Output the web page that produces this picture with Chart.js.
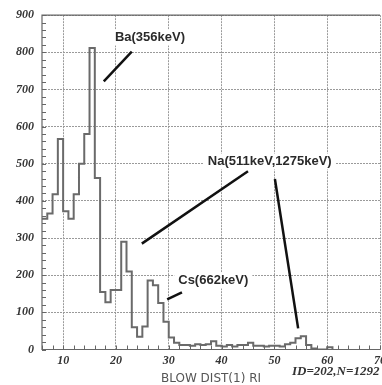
<!DOCTYPE html>
<html>
<head>
<meta charset="utf-8">
<script src="https://cdn.jsdelivr.net/npm/chart.js@4.4.0/dist/chart.umd.min.js"></script>
<style>
  html, body { margin: 0; padding: 0; background: #fff; overflow: hidden; }
  #wrap { width: 382px; height: 385px; overflow: hidden; }
</style>
</head>
<body>
<div id="wrap"><canvas id="hist" width="400" height="385"></canvas></div>
<script>
// bin edges (left edge of each bin, last entry closes the final bin)
const binEdges = [6, 7, 8, 9, 10, 11, 12, 13, 14, 15, 16, 17, 18, 19, 20, 21, 22, 23, 24, 25,
  26, 27, 28, 29, 30, 31, 32, 33, 34, 35, 36, 37, 38, 39, 40, 41, 42, 43, 44, 45,
  46, 47, 48, 49, 50, 51, 52, 53, 54, 55, 56, 57, 58, 59, 60, 61];
// counts per bin
const counts = [352, 366, 418, 567, 372, 352, 418, 500, 580, 812, 462, 155, 127, 160, 160, 290, 210, 60, 34, 62,
  186, 173, 125, 75, 32, 18, 12, 12, 10, 14, 12, 14, 22, 10, 8, 12, 8, 12, 12, 18,
  10, 10, 8, 10, 10, 8, 14, 18, 30, 36, 12, 3, 0, 0, 6];

const xTickLabels = [10, 20, 30, 40, 50, 60, 70];
const yTickLabels = [0, 100, 200, 300, 400, 500, 600, 700, 800, 900];

// peak labels: text, text anchor (x, y), pointer lines [[x1,y1,x2,y2], ...]
const peakNames = ['Ba(356keV)', 'Na(511keV,1275keV)', 'Cs(662keV)'];
const peakTextPos = [[19.8, 840], [37.4, 506], [31.8, 186]];
const peakLines = [
  [[17.7, 722, 23.0, 802]],
  [[45.0, 480, 24.9, 285], [50.1, 459, 54.5, 57]],
  [[29.7, 135, 32.5, 154]]
];

const histPoints = binEdges.map((x, i) => ({ x: x, y: i < counts.length ? counts[i] : 0 }));

const gridColor = '#9a9a9a';
const axisColor = '#666';
const tickFont = { family: '"Liberation Serif", serif', size: 12, style: 'italic', weight: 'bold' };

const decorations = {
  id: 'decorations',
  afterDatasetsDraw(chart) {
    const { ctx, chartArea: a, scales: { x, y } } = chart;
    ctx.save();
    // frame
    ctx.strokeStyle = axisColor;
    ctx.lineWidth = 1.2;
    ctx.beginPath();
    ctx.moveTo(a.right, a.top);
    ctx.lineTo(a.left, a.top);
    ctx.lineTo(a.left, a.bottom);
    ctx.lineTo(a.right, a.bottom);
    ctx.stroke();
    // inward minor ticks
    ctx.lineWidth = 1;
    ctx.beginPath();
    x.ticks.forEach(t => {
      const px = Math.round(x.getPixelForValue(t.value)) + 0.5;
      ctx.moveTo(px, a.bottom);
      ctx.lineTo(px, a.bottom - 4);
    });
    y.ticks.forEach(t => {
      const py = Math.round(y.getPixelForValue(t.value)) + 0.5;
      ctx.moveTo(a.left, py);
      ctx.lineTo(a.left + 4, py);
    });
    ctx.stroke();

    // peak annotations
    ctx.font = 'bold 13px "Liberation Sans", Arial, sans-serif';
    ctx.textBaseline = 'middle';
    ctx.textAlign = 'left';
    peakNames.forEach((name, i) => {
      const tx = x.getPixelForValue(peakTextPos[i][0]);
      const ty = y.getPixelForValue(peakTextPos[i][1]);
      const w = ctx.measureText(name).width;
      ctx.fillStyle = '#fff';
      ctx.fillRect(tx - 4, ty - 8, w + 8, 16);
      ctx.fillStyle = '#2a2a2a';
      ctx.fillText(name, tx, ty);
      ctx.strokeStyle = '#111';
      ctx.lineWidth = 2.5;
      peakLines[i].forEach(l => {
        ctx.beginPath();
        ctx.moveTo(x.getPixelForValue(l[0]), y.getPixelForValue(l[1]));
        ctx.lineTo(x.getPixelForValue(l[2]), y.getPixelForValue(l[3]));
        ctx.stroke();
      });
    });

    // axis title and id text
    ctx.fillStyle = '#555';
    ctx.font = '12px "DejaVu Sans", sans-serif';
    ctx.textAlign = 'center';
    ctx.fillText('BLOW DIST(1) RI', (a.left + a.right) / 2, 379);
    ctx.font = 'italic bold 13px "Liberation Serif", serif';
    ctx.fillStyle = '#333';
    ctx.textAlign = 'left';
    ctx.fillText('ID=202,N=1292', 292, 372);
    ctx.restore();
  }
};

new Chart(document.getElementById('hist'), {
  type: 'line',
  data: {
    datasets: [{
      data: histPoints,
      stepped: 'before',
      borderColor: '#6a6a6a',
      borderWidth: 2,
      pointRadius: 0,
      fill: false
    }]
  },
  options: {
    responsive: false,
    animation: false,
    layout: { padding: { top: 12.5, right: 20, bottom: 0, left: 0 } },
    plugins: { legend: { display: false }, tooltip: { enabled: false } },
    scales: {
      x: {
        type: 'linear',
        min: 6,
        max: 70,
        afterFit(s) { s.height = 35.5; s.paddingLeft = 0; s.paddingRight = 0; },
        border: { display: false, dash: [2, 1] },
        grid: {
          drawTicks: false,
          color: c => xTickLabels.includes(c.tick.value) ? gridColor : 'rgba(0,0,0,0)',
          lineWidth: 1
        },
        ticks: {
          stepSize: 2,
          autoSkip: false,
          maxRotation: 0,
          padding: 4,
          color: '#333',
          font: tickFont,
          callback: v => xTickLabels.includes(v) ? String(v) : ''
        }
      },
      y: {
        min: 0,
        max: 900,
        afterFit(s) { s.width = 42; },
        border: { display: false, dash: [2, 1] },
        grid: {
          drawTicks: false,
          color: c => yTickLabels.includes(c.tick.value) ? gridColor : 'rgba(0,0,0,0)',
          lineWidth: 1
        },
        ticks: {
          stepSize: 20,
          autoSkip: false,
          padding: 8,
          color: '#333',
          font: tickFont,
          callback: v => yTickLabels.includes(v) ? String(v) : ''
        }
      }
    }
  },
  plugins: [decorations]
});
</script>
</body>
</html>
